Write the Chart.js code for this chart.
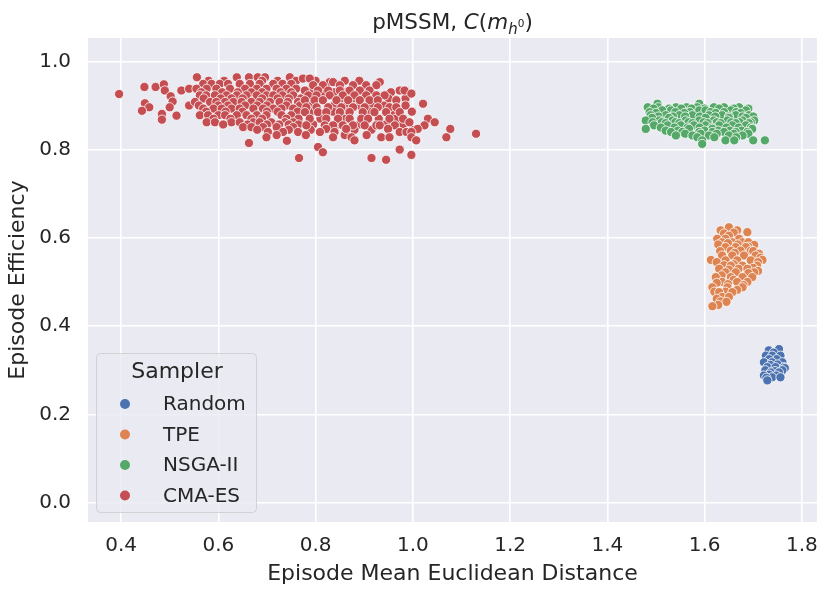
<!DOCTYPE html>
<html>
<head>
<meta charset="utf-8">
<script src="https://cdn.jsdelivr.net/npm/chart.js@4.4.1/dist/chart.umd.min.js"></script>
<style>
  body { margin: 0; background: #ffffff; }
  #wrap { width: 830px; height: 596px; }
</style>
</head>
<body>
<div id="wrap"><canvas id="scatterChart" width="830" height="596"></canvas></div>
<script>
// 采样器名称与颜色
const samplers = ['Random', 'TPE', 'NSGA-II', 'CMA-ES'];
const samplerColors = ['#4C72B0', '#DD8452', '#55A868', '#C44E52'];

// 坐标轴刻度
const xTicks = [0.4, 0.6, 0.8, 1.0, 1.2, 1.4, 1.6, 1.8];
const yTicks = [0.0, 0.2, 0.4, 0.6, 0.8, 1.0];

// 各采样器的点 [距离, 效率]
const randomPts = [
    [1.732, 0.345], [1.753, 0.348], [1.742, 0.340], [1.726, 0.333], [1.739, 0.333],
    [1.756, 0.333], [1.748, 0.325], [1.733, 0.325], [1.722, 0.318], [1.739, 0.318],
    [1.760, 0.318], [1.750, 0.313], [1.735, 0.312], [1.729, 0.307], [1.746, 0.307],
    [1.763, 0.307], [1.765, 0.305], [1.725, 0.300], [1.745, 0.298], [1.760, 0.300],
    [1.736, 0.295], [1.753, 0.295], [1.733, 0.290], [1.748, 0.288], [1.722, 0.288],
    [1.739, 0.284], [1.756, 0.284], [1.727, 0.283], [1.729, 0.277]
];

const tpePts = [
    [1.650, 0.624], [1.633, 0.617], [1.667, 0.617], [1.688, 0.613], [1.640, 0.610],
    [1.660, 0.612], [1.650, 0.605], [1.626, 0.598], [1.643, 0.598], [1.671, 0.598],
    [1.636, 0.590], [1.657, 0.590], [1.678, 0.590], [1.690, 0.590], [1.628, 0.585],
    [1.648, 0.588], [1.668, 0.585], [1.702, 0.584], [1.690, 0.580], [1.643, 0.579],
    [1.664, 0.579], [1.685, 0.579], [1.632, 0.570], [1.654, 0.571], [1.674, 0.571],
    [1.695, 0.571], [1.700, 0.570], [1.662, 0.566], [1.712, 0.564], [1.636, 0.560],
    [1.657, 0.560], [1.681, 0.560], [1.705, 0.560], [1.715, 0.555], [1.613, 0.550],
    [1.719, 0.550], [1.643, 0.549], [1.667, 0.549], [1.695, 0.549], [1.710, 0.545],
    [1.625, 0.545], [1.660, 0.540], [1.640, 0.538], [1.654, 0.537], [1.678, 0.537],
    [1.708, 0.537], [1.700, 0.532], [1.630, 0.530], [1.670, 0.530], [1.688, 0.530],
    [1.650, 0.528], [1.710, 0.525], [1.643, 0.522], [1.664, 0.522], [1.702, 0.522],
    [1.690, 0.520], [1.635, 0.515], [1.623, 0.511], [1.654, 0.511], [1.678, 0.511],
    [1.698, 0.511], [1.660, 0.505], [1.636, 0.500], [1.667, 0.500], [1.688, 0.500],
    [1.625, 0.498], [1.648, 0.495], [1.680, 0.493], [1.616, 0.488], [1.647, 0.488],
    [1.678, 0.488], [1.667, 0.482], [1.620, 0.478], [1.643, 0.478], [1.630, 0.477],
    [1.657, 0.477], [1.636, 0.466], [1.650, 0.466], [1.625, 0.462], [1.633, 0.456],
    [1.645, 0.455], [1.628, 0.448], [1.616, 0.445]
];

const nsgaPts = [
    [1.503, 0.904], [1.589, 0.904],
    [1.483, 0.896], [1.505, 0.896], [1.541, 0.896], [1.563, 0.896], [1.585, 0.896],
    [1.619, 0.896], [1.640, 0.896], [1.671, 0.896],
    [1.495, 0.893], [1.527, 0.893], [1.552, 0.893], [1.573, 0.893], [1.600, 0.893],
    [1.630, 0.893], [1.660, 0.893], [1.690, 0.893],
    [1.513, 0.889], [1.531, 0.889], [1.589, 0.889], [1.602, 0.889], [1.654, 0.889],
    [1.685, 0.889],
    [1.487, 0.885], [1.540, 0.885], [1.570, 0.885], [1.612, 0.885], [1.640, 0.885],
    [1.665, 0.885],
    [1.500, 0.883], [1.558, 0.883], [1.623, 0.883], [1.674, 0.883],
    [1.489, 0.878], [1.520, 0.878], [1.548, 0.878], [1.575, 0.878], [1.609, 0.878],
    [1.636, 0.878], [1.664, 0.878], [1.691, 0.878],
    [1.505, 0.875], [1.535, 0.875], [1.560, 0.875], [1.590, 0.875], [1.622, 0.875],
    [1.650, 0.875], [1.678, 0.875], [1.700, 0.875],
    [1.492, 0.872], [1.527, 0.872], [1.602, 0.872], [1.650, 0.872], [1.685, 0.872],
    [1.479, 0.866], [1.507, 0.866], [1.534, 0.866], [1.561, 0.866], [1.589, 0.866],
    [1.619, 0.866], [1.647, 0.866], [1.678, 0.866], [1.702, 0.866],
    [1.493, 0.862], [1.512, 0.862], [1.540, 0.862], [1.567, 0.862], [1.598, 0.862],
    [1.625, 0.862], [1.655, 0.862], [1.672, 0.862], [1.695, 0.862],
    [1.520, 0.860], [1.548, 0.860], [1.575, 0.860], [1.606, 0.860], [1.633, 0.860],
    [1.664, 0.860], [1.691, 0.860],
    [1.496, 0.855], [1.524, 0.855], [1.551, 0.855], [1.578, 0.855], [1.602, 0.855],
    [1.630, 0.855], [1.657, 0.855], [1.685, 0.855],
    [1.510, 0.850], [1.538, 0.850], [1.565, 0.850], [1.590, 0.850], [1.615, 0.850],
    [1.645, 0.850], [1.670, 0.850], [1.695, 0.850],
    [1.479, 0.847], [1.568, 0.847], [1.616, 0.847], [1.698, 0.847],
    [1.520, 0.843], [1.545, 0.843], [1.600, 0.843], [1.628, 0.843], [1.652, 0.843],
    [1.676, 0.843],
    [1.531, 0.840], [1.554, 0.840], [1.589, 0.840], [1.616, 0.840], [1.640, 0.840],
    [1.664, 0.840], [1.688, 0.840],
    [1.560, 0.836], [1.592, 0.836], [1.625, 0.836], [1.660, 0.836], [1.690, 0.836],
    [1.541, 0.832], [1.575, 0.832], [1.609, 0.832], [1.650, 0.832], [1.678, 0.832],
    [1.585, 0.828], [1.620, 0.828], [1.665, 0.828],
    [1.595, 0.821], [1.643, 0.821], [1.661, 0.821], [1.700, 0.821], [1.724, 0.821],
    [1.595, 0.813]
];

const cmaesPts = [
    [0.396, 0.926], [0.448, 0.942], [0.471, 0.942], [0.488, 0.948], [0.490, 0.934],
    [0.502, 0.921], [0.506, 0.909], [0.449, 0.905], [0.458, 0.896], [0.443, 0.888],
    [0.500, 0.896], [0.484, 0.881], [0.484, 0.868], [0.514, 0.877], [0.524, 0.934],
    [0.540, 0.938], [0.540, 0.900], [0.663, 0.815], [0.766, 0.781],
    [0.556, 0.964], [0.638, 0.964], [0.663, 0.964], [0.681, 0.964], [0.696, 0.964], [0.747, 0.964],
    [0.580, 0.956], [0.612, 0.956], [0.690, 0.956], [0.722, 0.956], [0.760, 0.956],
    [0.800, 0.956], [0.860, 0.956], [0.890, 0.956],
    [0.569, 0.949], [0.586, 0.949], [0.603, 0.949], [0.620, 0.949], [0.644, 0.949],
    [0.665, 0.949], [0.685, 0.949], [0.713, 0.949], [0.732, 0.949], [0.750, 0.949],
    [0.555, 0.938], [0.576, 0.938], [0.596, 0.938], [0.624, 0.938], [0.655, 0.938],
    [0.679, 0.938], [0.699, 0.938], [0.720, 0.938], [0.740, 0.938], [0.760, 0.938],
    [0.565, 0.930], [0.608, 0.930], [0.640, 0.930], [0.668, 0.930], [0.690, 0.930],
    [0.728, 0.930], [0.750, 0.930], [0.790, 0.930], [0.815, 0.930], [0.838, 0.930],
    [0.862, 0.930], [0.900, 0.930], [0.955, 0.930],
    [0.562, 0.923], [0.575, 0.923], [0.593, 0.923], [0.617, 0.923], [0.638, 0.923],
    [0.658, 0.923], [0.679, 0.923], [0.699, 0.923], [0.713, 0.923], [0.732, 0.923], [0.754, 0.923],
    [0.570, 0.916], [0.605, 0.916], [0.627, 0.916], [0.650, 0.916], [0.690, 0.916],
    [0.722, 0.916], [0.745, 0.916], [0.770, 0.916], [0.790, 0.916], [0.852, 0.916],
    [0.877, 0.916], [0.950, 0.916], [0.985, 0.916],
    [0.552, 0.908], [0.583, 0.908], [0.596, 0.908], [0.614, 0.908], [0.631, 0.908],
    [0.648, 0.908], [0.668, 0.908], [0.685, 0.908], [0.706, 0.908], [0.726, 0.908],
    [0.743, 0.908], [0.764, 0.908],
    [0.560, 0.900], [0.600, 0.900], [0.620, 0.900], [0.655, 0.900], [0.680, 0.900],
    [0.700, 0.900], [0.740, 0.900], [0.768, 0.900], [0.790, 0.900], [0.838, 0.900],
    [0.865, 0.900], [0.890, 0.900], [0.915, 0.900], [0.940, 0.900], [0.985, 0.900],
    [0.569, 0.893], [0.590, 0.893], [0.607, 0.893], [0.627, 0.893], [0.644, 0.893],
    [0.672, 0.893], [0.692, 0.893], [0.713, 0.893], [0.730, 0.893], [0.754, 0.893],
    [0.575, 0.886], [0.615, 0.886], [0.650, 0.886], [0.700, 0.886], [0.722, 0.886],
    [0.763, 0.886], [0.790, 0.886], [0.836, 0.886], [0.860, 0.886], [0.910, 0.886],
    [0.958, 0.886], [0.998, 0.886],
    [0.562, 0.878], [0.579, 0.878], [0.600, 0.878], [0.614, 0.878], [0.638, 0.878],
    [0.658, 0.878], [0.679, 0.878], [0.699, 0.878], [0.730, 0.878], [0.750, 0.878],
    [0.590, 0.870], [0.625, 0.870], [0.668, 0.870], [0.690, 0.870], [0.740, 0.870],
    [0.765, 0.870], [0.810, 0.870], [0.858, 0.870], [0.930, 0.870], [0.965, 0.870],
    [0.576, 0.862], [0.593, 0.862], [0.627, 0.862], [0.644, 0.862], [0.672, 0.862],
    [0.685, 0.862], [0.709, 0.862], [0.737, 0.862], [0.754, 0.862],
    [0.610, 0.857], [0.660, 0.857], [0.700, 0.857], [0.725, 0.857], [0.745, 0.857],
    [0.765, 0.857], [0.795, 0.857], [0.845, 0.857], [0.890, 0.857], [0.945, 0.857],
    [0.980, 0.857],
    [0.651, 0.851], [0.668, 0.851], [0.692, 0.851], [0.720, 0.851], [0.754, 0.851],
    [0.680, 0.845], [0.745, 0.845], [0.790, 0.845], [0.880, 0.845], [0.915, 0.845],
    [1.000, 0.845],
    [0.702, 0.840], [0.733, 0.840], [0.764, 0.840],
    [0.720, 0.833], [0.780, 0.833], [0.860, 0.833], [0.905, 0.833],
    [0.699, 0.828], [0.741, 0.820],
    [0.774, 0.961], [0.788, 0.961],
    [0.829, 0.953], [0.836, 0.953], [0.932, 0.953],
    [0.795, 0.946], [0.815, 0.946], [0.850, 0.946], [0.877, 0.946], [0.904, 0.946], [0.925, 0.946],
    [0.778, 0.934], [0.805, 0.934], [0.826, 0.934], [0.850, 0.934], [0.870, 0.934],
    [0.891, 0.934], [0.911, 0.934], [0.973, 0.934], [0.983, 0.934],
    [0.997, 0.927],
    [0.785, 0.923], [0.802, 0.923], [0.829, 0.923], [0.856, 0.923], [0.880, 0.923],
    [0.904, 0.923], [0.925, 0.923], [0.942, 0.923],
    [0.778, 0.912], [0.798, 0.912], [0.815, 0.912], [0.843, 0.912], [0.867, 0.912],
    [0.891, 0.912], [0.911, 0.912], [0.928, 0.912], [0.966, 0.912],
    [1.021, 0.904],
    [0.781, 0.896], [0.802, 0.896], [0.826, 0.896], [0.853, 0.896], [0.877, 0.896],
    [0.901, 0.896], [0.928, 0.896], [0.952, 0.896], [0.966, 0.896],
    [0.778, 0.885], [0.805, 0.885], [0.822, 0.885], [0.850, 0.885], [0.870, 0.885],
    [0.897, 0.885], [0.921, 0.885], [0.945, 0.885], [0.973, 0.885],
    [0.788, 0.870], [0.822, 0.870], [0.846, 0.870], [0.870, 0.870], [0.894, 0.870],
    [0.908, 0.870], [0.952, 0.870], [0.980, 0.870], [1.031, 0.870],
    [0.993, 0.862], [1.045, 0.862],
    [0.781, 0.855], [0.819, 0.855], [0.836, 0.855], [0.856, 0.855], [0.877, 0.855],
    [0.901, 0.855], [0.925, 0.855], [0.932, 0.855], [0.963, 0.855], [1.024, 0.855],
    [0.822, 0.847], [0.863, 0.847], [0.949, 0.847], [1.010, 0.847], [1.077, 0.847],
    [0.809, 0.840], [0.839, 0.840], [0.973, 0.840], [0.987, 0.840], [0.997, 0.840],
    [1.130, 0.836],
    [0.836, 0.828], [0.874, 0.828], [0.935, 0.828], [0.952, 0.828], [0.997, 0.828], [1.069, 0.828],
    [0.880, 0.821], [1.007, 0.821],
    [0.805, 0.806], [0.973, 0.800], [0.815, 0.794], [0.997, 0.788],
    [0.915, 0.781], [0.945, 0.777]
];

const allPts = [randomPts, tpePts, nsgaPts, cmaesPts];
const textColor = '#262626';
const fontFamily = '"DejaVu Sans", sans-serif';

Chart.defaults.font.family = fontFamily;
Chart.defaults.color = textColor;

// 绘图区灰色背景
const panelBg = {
    id: 'panelBg',
    beforeDraw(chart) {
        const a = chart.chartArea;
        const ctx = chart.ctx;
        ctx.save();
        ctx.fillStyle = '#EAEAF2';
        ctx.fillRect(a.left, a.top, a.right - a.left, a.bottom - a.top);
        ctx.restore();
    }
};

// 标题（含斜体与上下标）
const mathTitle = {
    id: 'mathTitle',
    afterDraw(chart) {
        const ctx = chart.ctx;
        const a = chart.chartArea;
        const parts = [
            { t: 'pMSSM, ', it: false, size: 21.5, dy: 0 },
            { t: 'C', it: true, size: 21.5, dy: 0 },
            { t: '(', it: false, size: 21.5, dy: 0 },
            { t: 'm', it: true, size: 21.5, dy: 0 },
            { t: 'h', it: true, size: 15, dy: 5 },
            { t: '0', it: false, size: 10.5, dy: -2 },
            { t: ')', it: false, size: 21.5, dy: 0 }
        ];
        ctx.save();
        ctx.fillStyle = textColor;
        ctx.textBaseline = 'alphabetic';
        ctx.textAlign = 'left';
        let total = 0;
        parts.forEach(p => {
            ctx.font = (p.it ? 'italic ' : '') + p.size + 'px ' + fontFamily;
            p.w = ctx.measureText(p.t).width;
            total += p.w;
        });
        let x = (a.left + a.right) / 2 - total / 2;
        const base = 29;
        parts.forEach(p => {
            ctx.font = (p.it ? 'italic ' : '') + p.size + 'px ' + fontFamily;
            ctx.fillText(p.t, x, base + p.dy);
            x += p.w;
        });
        ctx.restore();
    }
};

// 图例（左下角，带标题 Sampler）
const samplerLegend = {
    id: 'samplerLegend',
    afterDraw(chart) {
        const ctx = chart.ctx;
        ctx.save();
        ctx.beginPath();
        ctx.roundRect(96.5, 353.5, 160, 159, 4);
        ctx.fillStyle = 'rgba(234, 234, 242, 0.8)';
        ctx.fill();
        ctx.strokeStyle = 'rgba(204, 204, 204, 0.8)';
        ctx.lineWidth = 1;
        ctx.stroke();

        ctx.fillStyle = textColor;
        ctx.textBaseline = 'middle';
        ctx.textAlign = 'center';
        ctx.font = '22px ' + fontFamily;
        ctx.fillText('Sampler', 177, 372);

        ctx.textAlign = 'left';
        ctx.font = '20px ' + fontFamily;
        samplers.forEach((name, i) => {
            const y = 404 + i * 30.5;
            ctx.beginPath();
            ctx.arc(125, y, 5, 0, Math.PI * 2);
            ctx.fillStyle = samplerColors[i];
            ctx.fill();
            ctx.fillStyle = textColor;
            ctx.fillText(name, 163, y + 1);
        });
        ctx.restore();
    }
};

const ctx = document.getElementById('scatterChart');

new Chart(ctx, {
    type: 'scatter',
    data: {
        datasets: samplers.map((name, i) => ({
            label: name,
            data: allPts[i].map(p => ({ x: p[0], y: p[1] })),
            backgroundColor: samplerColors[i],
            borderColor: '#ffffff',
            borderWidth: 0.8,
            pointRadius: 4.6,
            pointHoverRadius: 6
        }))
    },
    options: {
        responsive: false,
        animation: false,
        devicePixelRatio: 1,
        layout: {
            padding: { top: 38, right: 12, left: 0, bottom: 0 }
        },
        plugins: {
            legend: { display: false },
            title: { display: false },
            tooltip: {
                callbacks: {
                    label: function(context) {
                        return `${context.dataset.label}: (${context.raw.x.toFixed(3)}, ${context.raw.y.toFixed(3)})`;
                    }
                }
            }
        },
        scales: {
            x: {
                type: 'linear',
                position: 'bottom',
                min: 0.332,
                max: 1.831,
                afterBuildTicks: function(scale) {
                    scale.ticks = xTicks.map(v => ({ value: v }));
                },
                afterFit: function(scale) {
                    scale.height = 74;
                },
                border: { display: false },
                grid: {
                    color: '#ffffff',
                    lineWidth: 1.6,
                    drawTicks: false
                },
                ticks: {
                    autoSkip: false,
                    maxRotation: 0,
                    padding: 12,
                    color: textColor,
                    font: { size: 20 },
                    callback: function(value) {
                        return value.toFixed(1);
                    }
                },
                title: {
                    display: true,
                    text: 'Episode Mean Euclidean Distance',
                    color: textColor,
                    font: { size: 22 },
                    padding: { top: 0, bottom: 9 }
                }
            },
            y: {
                type: 'linear',
                position: 'left',
                min: -0.044,
                max: 1.053,
                afterBuildTicks: function(scale) {
                    scale.ticks = yTicks.map(v => ({ value: v }));
                },
                afterFit: function(scale) {
                    scale.width = 88;
                },
                border: { display: false },
                grid: {
                    color: '#ffffff',
                    lineWidth: 1.6,
                    drawTicks: false
                },
                ticks: {
                    autoSkip: false,
                    padding: 17,
                    color: textColor,
                    font: { size: 20 },
                    callback: function(value) {
                        return value.toFixed(1);
                    }
                },
                title: {
                    display: true,
                    text: 'Episode Efficiency',
                    color: textColor,
                    font: { size: 22 },
                    padding: { top: 5, bottom: 0 }
                }
            }
        }
    },
    plugins: [panelBg, mathTitle, samplerLegend]
});
</script>
</body>
</html>
